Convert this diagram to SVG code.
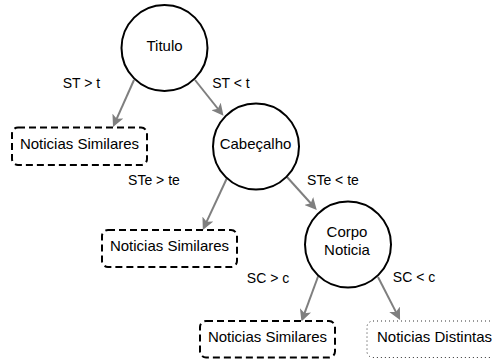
<svg xmlns="http://www.w3.org/2000/svg" width="492" height="359" viewBox="0 0 492 359">
  <style>
    .circle { fill: #ffffff; stroke: #000000; stroke-width: 2; }
    .dashed { fill: #ffffff; stroke: #000000; stroke-width: 2; stroke-dasharray: 7 4; }
    .dotted { fill: #ffffff; stroke: #333333; stroke-width: 1; stroke-dasharray: 1 3; }
    .node { font-family: "Liberation Sans", Arial, Helvetica, sans-serif; font-size: 15px; fill: #000000; text-anchor: middle; }
    .label { font-family: "Liberation Sans", Arial, Helvetica, sans-serif; font-size: 14px; fill: #000000; text-anchor: middle; }
    .edge { fill: none; stroke: #7f7f7f; stroke-width: 2; marker-end: url(#arrow); }
  </style>
  <defs>
    <marker id="arrow" viewBox="0 0 12 12" refX="4" refY="6" markerWidth="12" markerHeight="12" markerUnits="userSpaceOnUse" orient="auto">
      <path d="M0,0 L12,6 L0,12 L3,6 Z" fill="#7f7f7f"/>
    </marker>
  </defs>
  <rect width="492" height="359" fill="#ffffff"/>

  <g id="connectors">
    <line class="edge" x1="134" y1="80" x2="116.3" y2="119.7"/>
    <line class="edge" x1="195" y1="80" x2="218.5" y2="109.5"/>
    <line class="edge" x1="227" y1="178" x2="206.2" y2="222.7"/>
    <line class="edge" x1="287" y1="177" x2="311.4" y2="204"/>
    <line class="edge" x1="318.6" y1="275" x2="304.2" y2="314.1"/>
    <line class="edge" x1="378" y1="277" x2="396.4" y2="312.9"/>
  </g>

  <g id="edge-labels">
    <text class="label" x="81.5" y="88.3">ST &gt; t</text>
    <text class="label" x="231" y="88">ST &lt; t</text>
    <text class="label" x="154" y="185">STe &gt; te</text>
    <text class="label" x="333" y="185">STe &lt; te</text>
    <text class="label" x="268" y="283">SC &gt; c</text>
    <text class="label" x="414" y="282">SC &lt; c</text>
  </g>

  <g id="titulo">
    <circle class="circle" cx="164.5" cy="48" r="43"/>
    <text class="node" x="164.5" y="50.5">Titulo</text>
  </g>

  <g id="cabecalho">
    <circle class="circle" cx="256" cy="146.5" r="43"/>
    <text class="node" x="255.5" y="148.7">Cabeçalho</text>
  </g>

  <g id="corpo-noticia">
    <circle class="circle" cx="348" cy="244.5" r="43"/>
    <text class="node" x="347" y="237">Corpo</text>
    <text class="node" x="347" y="254.5">Noticia</text>
  </g>

  <g id="similares-1">
    <rect class="dashed" x="12" y="127.5" width="135" height="37.5" rx="6" ry="6"/>
    <text class="node" x="79.5" y="148.7">Noticias Similares</text>
  </g>

  <g id="similares-2">
    <rect class="dashed" x="102" y="230" width="135" height="37" rx="6" ry="6"/>
    <text class="node" x="169.5" y="251.4">Noticias Similares</text>
  </g>

  <g id="similares-3">
    <rect class="dashed" x="200" y="321" width="135" height="36.5" rx="6" ry="6"/>
    <text class="node" x="267.5" y="342">Noticias Similares</text>
  </g>

  <g id="distintas">
    <rect class="dotted" x="367" y="321" width="135" height="36.5" rx="6" ry="6"/>
    <text class="node" x="434.5" y="342">Noticias Distintas</text>
  </g>
</svg>
